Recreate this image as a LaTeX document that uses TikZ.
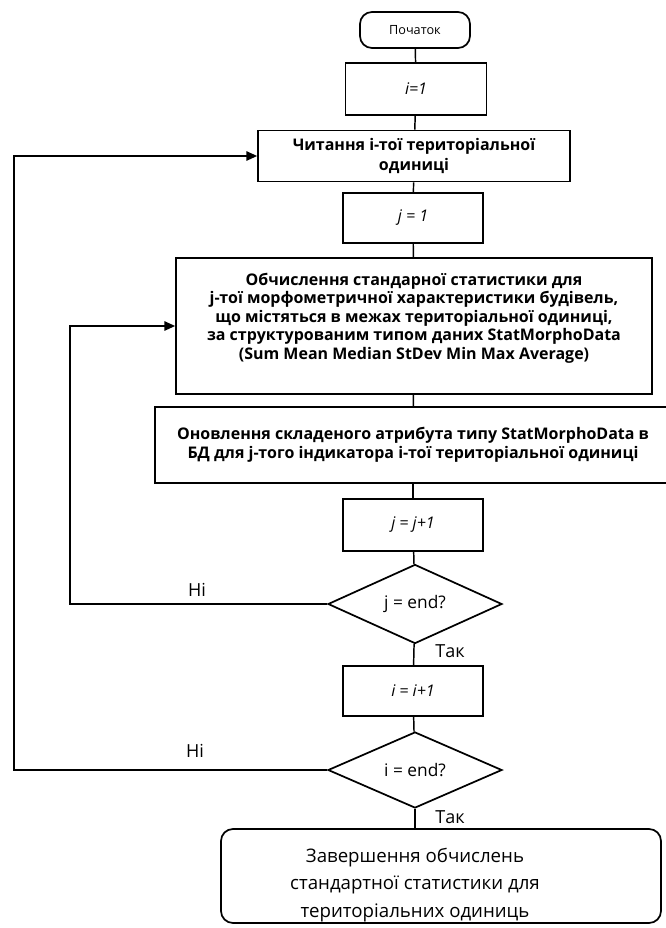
\documentclass[tikz,border=0pt]{standalone}
\usepackage{fontspec}
\setmainfont{Open Sans}
\usetikzlibrary{shapes.geometric,arrows.meta}
\begin{document}
\begin{tikzpicture}[x=0.75pt, y=-0.75pt, line width=1.1pt,
  every node/.style = {align=center, font=\fontsize{11}{14}\selectfont},
  stepbox/.style = {shape=rectangle, draw, line width=1.3pt,
    font=\fontsize{12}{14}\selectfont\itshape},
  boldbox/.style = {shape=rectangle, draw, line width=1.3pt,
    font=\fontsize{12}{13.9}\selectfont\bfseries},
  terminal/.style = {shape=rectangle, draw, line width=1.3pt, rounded corners=9pt},
  decision/.style = {shape=diamond, draw, line width=1.3pt, inner sep=0pt,
    minimum width=130.5pt, minimum height=57pt, font=\fontsize{13}{15}\selectfont},
  answer/.style = {font=\fontsize{13.5}{15}\selectfont},
  loop/.style = {-{Triangle[length=8pt,width=7pt]}}]
  \useasboundingbox (0,0) rectangle (665,928);
  \node[terminal, minimum width=82.5pt, minimum height=27pt,
    font=\fontsize{9.5}{11}\selectfont] (start) at (415,30) {Початок};
  \node[stepbox, minimum width=105.75pt, minimum height=39pt] (i1) at (416,89) {i=1};
  \node[boldbox, minimum width=234pt, minimum height=38.25pt,
    font=\fontsize{12}{15}\selectfont\bfseries] (read) at (414,156)
    {Читання і-тої територіальної\\ одиниці};
  \node[stepbox, minimum width=105pt, minimum height=37.5pt] (j1) at (413,218) {j = 1};
  \node[boldbox, minimum width=357pt, minimum height=102pt] (calc) at (414,326)
    {Обчислення стандарної статистики для\\
     j-тої морфометричної характеристики будівель,\\
     що містяться в межах територіальної одиниці,\\
     за структурованим типом даних StatMorphoData\\
     (Sum Mean Median StDev Min Max Average)\\[1pt]};
  \node[boldbox, minimum width=387pt, minimum height=57pt] (upd) at (413,445)
    {Оновлення складеного атрибута типу StatMorphoData в\\
     БД для j-того індикатора і-тої територіальної одиниці};
  \node[stepbox, minimum width=105pt, minimum height=39pt] (jinc) at (413,525) {j = j+1};
  \node[decision] (jend) at (415,604) {j = end?};
  \node[stepbox, minimum width=105pt, minimum height=37.5pt] (iinc) at (413,691) {i = i+1};
  \node[decision] (iend) at (415,770) {i = end?};
  \node[terminal, minimum width=330pt, minimum height=70.5pt] (fin) at (441,876) {};
  \node[font=\fontsize{14}{20.5}\selectfont] (fintext) at (415,885)
    {Завершення обчислень\\ стандартної статистики для\\ територіальних одиниць};
  \coordinate (jback) at (70,604);
  \coordinate (iback) at (14,770);
  \draw (start) -- (i1);
  \draw (i1) -- (read);
  \draw (read) -- (j1);
  \draw (j1) -- (calc);
  \draw (calc) -- (upd);
  \draw (upd) -- (jinc);
  \draw (jinc) -- (jend);
  \draw (jend) -- (iinc);
  \draw (iinc) -- (iend);
  \draw (iend.south) -- (iend.south |- fin.north);
  \draw[loop] (jend.west) -- (jback) |- (calc.west);
  \draw[loop] (iend.west) -- (iback) |- (read.west);
  \node[answer] (jno) at (197,590) {Ні};
  \node[answer] (jyes) at (450,651) {Так};
  \node[answer] (ino) at (195,751) {Ні};
  \node[answer] (iyes) at (450,817) {Так};
\end{tikzpicture}
\end{document}
